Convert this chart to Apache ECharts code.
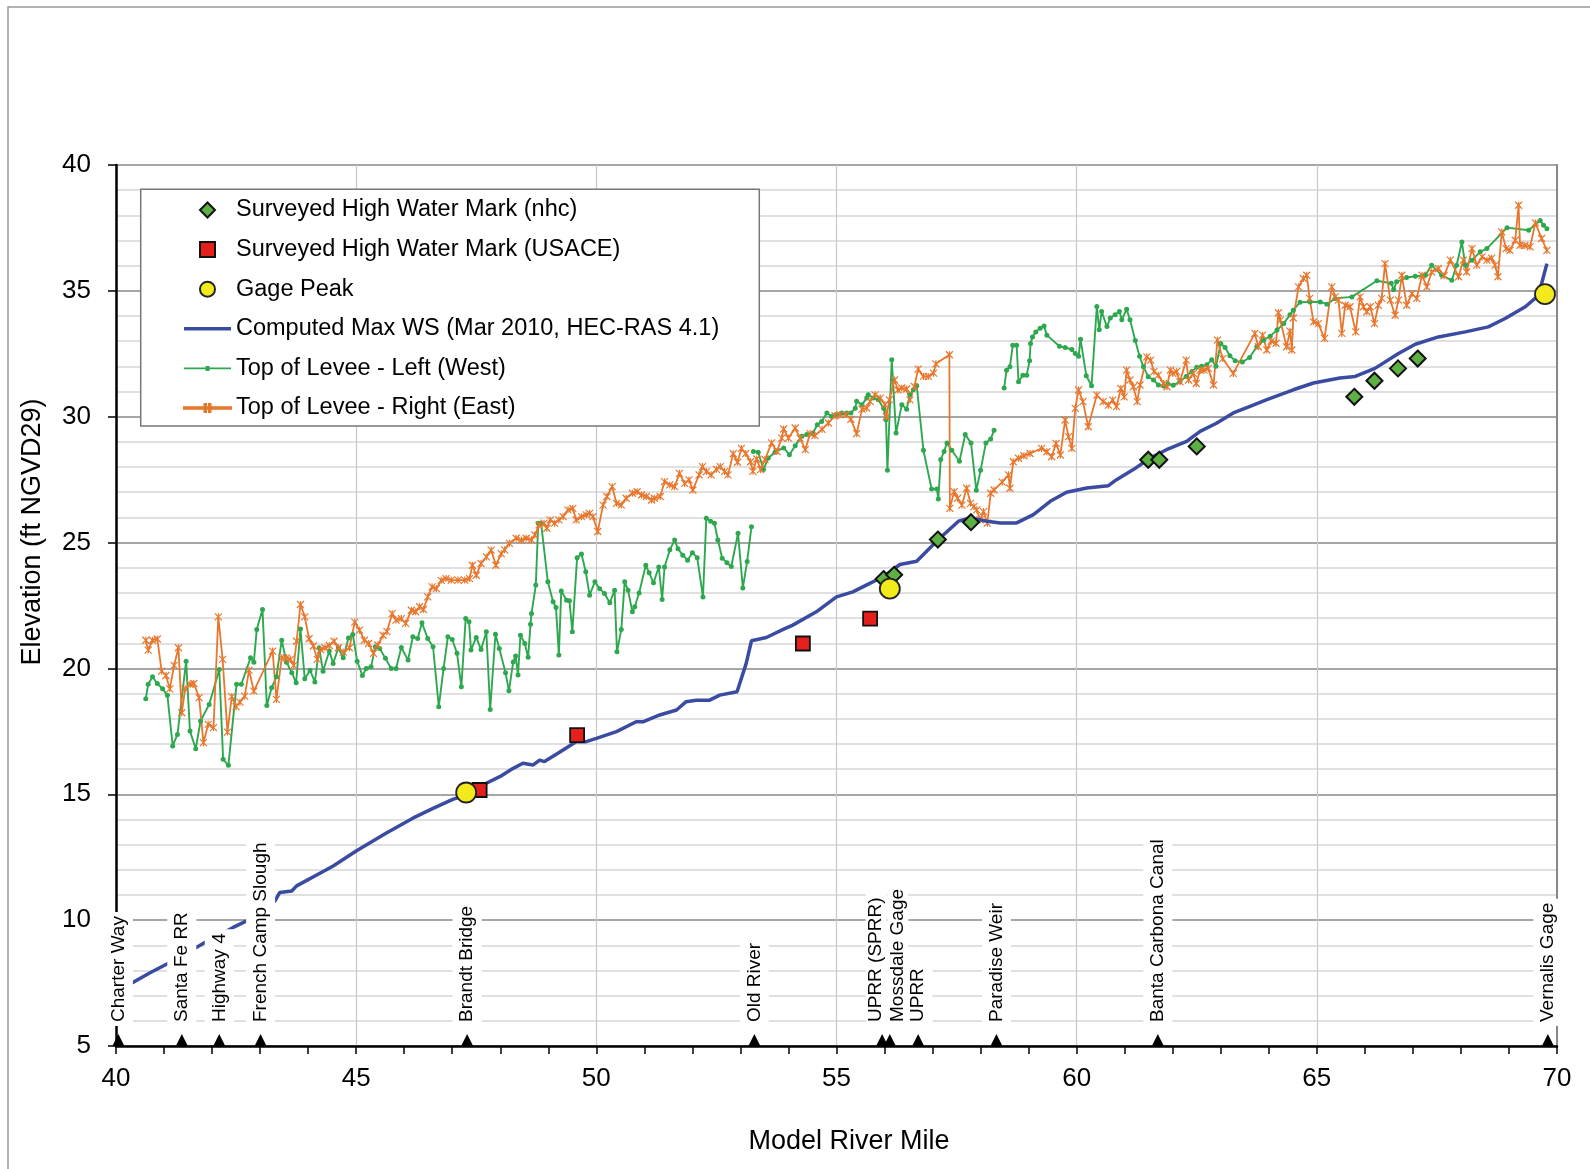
<!DOCTYPE html>
<html>
<head>
<meta charset="utf-8">
<script src="https://cdn.jsdelivr.net/npm/echarts@6/dist/echarts.min.js"></script>
<style>
html,body{margin:0;padding:0;background:#fff;}
#chart{width:1590px;height:1169px;}
</style>
</head>
<body>
<div id="chart"></div>
<script>
// ---------------- DATA ----------------
const xTicks = [40, 45, 50, 55, 60, 65, 70];
const yTicks = [5, 10, 15, 20, 25, 30, 35, 40];

const computedWS = [[40.0,7.15],[40.36,7.53],[40.7,7.9],[41.12,8.32],[41.68,8.92],[41.85,9.11],[42.44,9.71],[42.72,9.97],[43.0,10.3],[43.31,10.77],[43.41,11.1],[43.66,11.16],[43.76,11.36],[44.38,12.0],[44.53,12.16],[45.0,12.75],[45.62,13.45],[46.18,14.05],[46.6,14.44],[47.01,14.8],[47.29,14.97],[47.71,15.44],[47.99,15.7],[48.27,16.03],[48.47,16.23],[48.68,16.16],[48.82,16.36],[48.92,16.3],[49.2,16.63],[49.58,17.09],[49.79,17.09],[50.0,17.22],[50.42,17.49],[50.83,17.88],[50.97,17.88],[51.32,18.15],[51.67,18.35],[51.87,18.68],[52.08,18.74],[52.36,18.74],[52.57,18.94],[52.93,19.07],[53.12,20.2],[53.23,21.1],[53.54,21.23],[53.89,21.55],[54.09,21.72],[54.58,22.25],[55.0,22.84],[55.34,23.04],[55.62,23.31],[55.97,23.64],[56.32,24.13],[56.67,24.26],[57.12,25.12],[57.54,25.85],[57.78,25.98],[58.13,25.85],[58.41,25.78],[58.75,25.78],[59.1,26.11],[59.45,26.64],[59.79,27.0],[60.21,27.17],[60.66,27.26],[60.83,27.5],[61.18,27.9],[61.53,28.36],[61.87,28.69],[62.29,29.02],[62.57,29.42],[62.92,29.75],[63.26,30.15],[63.61,30.41],[63.96,30.68],[64.51,31.07],[64.93,31.34],[65.48,31.54],[65.8,31.6],[66.21,31.92],[66.7,32.51],[67.05,32.88],[67.53,33.17],[68.09,33.37],[68.57,33.57],[68.92,33.9],[69.34,34.37],[69.58,34.76],[69.68,35.29],[69.79,36.08]];

const leveeLeftA = [[40.62,18.8],[40.67,19.37],[40.76,19.67],[40.86,19.4],[40.97,19.19],[41.07,18.93],[41.18,16.92],[41.28,17.38],[41.46,20.29],[41.54,17.51],[41.66,16.81],[41.76,17.91],[41.94,18.57],[42.15,19.96],[42.23,16.39],[42.34,16.15],[42.51,19.37],[42.61,19.37],[42.8,20.42],[42.87,20.25],[42.93,21.55],[43.05,22.34],[43.14,18.53],[43.24,19.23],[43.34,19.67],[43.45,21.12],[43.55,20.25],[43.66,19.83],[43.75,19.43],[43.84,21.57],[43.93,19.59],[44.04,19.93],[44.14,19.46],[44.23,20.82],[44.31,19.89],[44.44,20.69],[44.52,20.2],[44.63,20.82],[44.73,20.42],[44.84,21.21],[44.93,21.35],[45.02,20.29],[45.13,19.72],[45.21,20.0],[45.31,20.07],[45.4,20.86],[45.49,20.79],[45.61,20.4],[45.73,20.0],[45.83,20.0],[45.94,20.83],[46.08,20.33],[46.18,21.26],[46.28,21.19],[46.37,21.81],[46.49,21.19],[46.6,20.86],[46.72,18.48],[46.82,20.0],[46.91,21.26],[47.0,21.15],[47.1,20.6],[47.19,19.27],[47.28,21.98],[47.35,21.85],[47.39,20.73],[47.5,21.23],[47.6,20.75],[47.71,21.46],[47.79,18.37],[47.9,21.36],[47.98,20.79],[48.11,19.83],[48.18,19.11],[48.27,20.26],[48.32,20.49],[48.37,19.74],[48.42,21.32],[48.51,20.99],[48.58,20.44],[48.63,21.76],[48.65,22.18],[48.74,23.31],[48.79,25.77],[48.85,25.77],[48.99,23.44],[49.1,22.65],[49.16,22.42],[49.22,20.53],[49.27,23.08],[49.38,22.71],[49.44,22.69],[49.5,21.46],[49.6,24.4],[49.69,24.55],[49.78,23.84],[49.86,22.91],[49.97,23.44],[50.07,23.17],[50.17,22.98],[50.28,22.61],[50.38,23.11],[50.43,20.66],[50.52,21.55],[50.59,23.44],[50.66,23.11],[50.75,22.25],[50.8,22.45],[50.89,23.0],[51.03,24.1],[51.1,23.8],[51.19,23.4],[51.3,24.03],[51.37,22.74],[51.42,24.03],[51.53,24.71],[51.63,25.1],[51.7,24.75],[51.8,24.5],[51.9,24.3],[52.0,24.6],[52.1,24.4],[52.22,22.84],[52.29,25.97],[52.38,25.85],[52.46,25.77],[52.53,25.1],[52.62,24.38],[52.72,24.2],[52.81,24.05],[52.95,25.37],[53.05,23.2],[53.14,24.25],[53.23,25.63]];

const leveeLeftB = [[53.27,28.62],[53.37,28.59],[53.48,27.9],[53.58,28.36],[53.72,28.59],[53.9,28.76],[54.02,28.49],[54.14,28.85],[54.28,29.22],[54.38,29.29],[54.51,29.35],[54.6,29.68],[54.69,29.81],[54.8,30.15],[54.9,30.01],[54.99,30.08],[55.11,30.15],[55.21,30.15],[55.3,30.15],[55.39,30.34],[55.42,30.61],[55.53,30.48],[55.63,30.74],[55.66,30.87],[55.77,30.74],[55.87,30.67],[55.98,30.34],[56.03,29.88],[56.06,27.87],[56.15,32.26],[56.24,29.35],[56.36,30.48],[56.46,30.3],[56.53,30.87],[56.6,31.07],[56.67,31.23],[56.81,28.67],[56.98,27.13],[57.09,27.13],[57.12,26.73],[57.17,28.3],[57.24,28.62],[57.3,28.96],[57.4,28.67],[57.56,28.23],[57.68,29.29],[57.8,28.96],[57.91,27.08],[58.0,27.87],[58.11,28.96],[58.21,29.11],[58.28,29.46]];

const leveeLeftC = [[58.49,31.14],[58.54,31.85],[58.61,31.98],[58.67,32.84],[58.75,32.84],[58.79,31.39],[58.88,31.65],[58.96,31.65],[59.02,32.22],[59.04,32.91],[59.08,33.17],[59.15,33.37],[59.24,33.51],[59.32,33.6],[59.38,33.24],[59.64,32.8],[59.76,32.75],[59.9,32.67],[59.97,32.51],[60.04,32.4],[60.08,33.08],[60.2,31.63],[60.31,31.23],[60.42,34.38],[60.47,33.45],[60.52,34.18],[60.63,33.58],[60.7,33.92],[60.8,34.05],[60.89,34.18],[60.94,33.85],[61.04,34.27],[61.11,33.85],[61.22,33.03],[61.31,32.4],[61.39,31.98],[61.49,31.59],[61.6,31.46],[61.7,31.26],[61.81,31.22],[61.9,31.3],[62.01,31.25],[62.15,31.4],[62.28,31.6],[62.4,31.8],[62.5,31.97],[62.6,32.0],[62.71,32.06],[62.81,32.26],[62.9,32.0],[63.0,32.91],[63.09,32.75],[63.19,32.42],[63.3,32.22],[63.45,32.17],[63.6,32.35],[63.75,32.78],[63.89,33.04],[64.03,33.2],[64.17,33.44],[64.31,33.7],[64.44,34.05],[64.51,34.23],[64.65,34.55],[64.86,34.56],[65.07,34.56],[65.21,34.47],[65.38,34.7],[65.73,34.76],[66.25,35.4],[66.55,35.3],[66.6,35.05],[66.66,35.36],[66.87,35.53],[67.05,35.58],[67.26,35.62],[67.39,36.02],[67.6,35.62],[67.81,35.42],[67.91,36.02],[68.02,36.94],[68.09,36.02],[68.23,36.22],[68.4,36.55],[68.54,36.68],[68.96,37.51],[69.41,37.41],[69.65,37.8],[69.72,37.61],[69.79,37.47]];

const leveeRight = [[40.62,21.12],[40.67,20.73],[40.76,21.12],[40.86,21.17],[40.95,19.89],[41.04,19.72],[41.12,19.19],[41.21,20.12],[41.3,20.82],[41.37,18.24],[41.44,19.19],[41.54,19.37],[41.62,19.4],[41.73,18.84],[41.82,17.05],[41.92,17.78],[42.03,17.65],[42.13,22.05],[42.22,20.36],[42.32,17.47],[42.41,18.88],[42.5,18.48],[42.58,18.66],[42.68,18.9],[42.77,19.93],[42.87,19.1],[43.26,20.69],[43.34,18.77],[43.45,20.42],[43.55,20.42],[43.63,20.36],[43.7,20.12],[43.76,21.08],[43.84,22.54],[43.93,22.05],[44.02,21.18],[44.11,20.89],[44.19,20.36],[44.26,20.75],[44.35,20.82],[44.44,20.91],[44.54,21.08],[44.63,20.82],[44.73,20.65],[44.86,20.82],[44.97,21.84],[45.07,21.52],[45.17,21.12],[45.26,20.99],[45.36,20.6],[45.45,20.93],[45.56,21.32],[45.64,21.46],[45.75,22.18],[45.83,21.92],[45.94,21.98],[46.03,21.79],[46.15,22.31],[46.24,22.25],[46.32,22.45],[46.4,22.34],[46.49,22.84],[46.58,23.24],[46.67,23.17],[46.77,23.5],[46.87,23.57],[46.98,23.51],[47.12,23.51],[47.26,23.51],[47.36,23.57],[47.42,24.1],[47.5,23.7],[47.6,24.17],[47.71,24.43],[47.81,24.7],[47.91,24.1],[48.02,24.56],[48.09,24.71],[48.19,24.97],[48.33,25.17],[48.44,25.1],[48.54,25.17],[48.65,25.11],[48.72,25.3],[48.81,25.7],[48.91,25.77],[48.97,25.57],[49.04,25.9],[49.13,25.77],[49.22,25.9],[49.31,26.03],[49.41,26.3],[49.51,26.36],[49.58,25.9],[49.69,26.03],[49.79,26.1],[49.86,26.16],[49.93,26.03],[50.03,25.44],[50.14,26.49],[50.22,26.83],[50.33,27.22],[50.42,26.56],[50.52,26.49],[50.62,26.76],[50.75,26.96],[50.85,27.02],[50.94,26.89],[51.04,26.83],[51.15,26.69],[51.21,26.76],[51.33,26.83],[51.42,27.42],[51.53,27.29],[51.63,27.22],[51.73,27.75],[51.84,27.35],[51.93,27.49],[52.01,27.09],[52.14,27.69],[52.21,28.02],[52.29,27.82],[52.39,27.69],[52.5,27.91],[52.58,28.02],[52.67,27.82],[52.74,27.69],[52.85,28.53],[52.94,28.19],[53.02,28.74],[53.11,28.54],[53.21,28.21],[53.26,27.83],[53.34,28.32],[53.42,27.9],[53.51,28.3],[53.65,28.96],[53.76,28.62],[53.86,29.15],[53.9,29.51],[54.0,29.15],[54.14,29.55],[54.24,29.15],[54.35,28.69],[54.45,29.33],[54.55,29.25],[54.7,29.5],[54.83,29.75],[54.97,30.04],[55.07,30.08],[55.2,30.08],[55.3,29.9],[55.42,29.33],[55.53,30.3],[55.63,30.34],[55.7,30.61],[55.8,30.87],[55.91,30.74],[56.01,30.48],[56.04,30.0],[56.1,30.67],[56.21,31.46],[56.28,31.06],[56.36,31.14],[56.46,31.1],[56.53,30.67],[56.62,31.2],[56.7,31.89],[56.81,31.6],[56.91,31.6],[57.02,31.73],[57.07,32.1],[57.35,32.46],[57.36,26.36],[57.45,27.02],[57.52,26.76],[57.61,26.49],[57.71,27.16],[57.79,26.56],[57.86,26.43],[57.92,26.3],[57.99,25.9],[58.06,26.23],[58.14,25.77],[58.21,26.96],[58.28,27.09],[58.45,27.4],[58.58,27.69],[58.61,27.16],[58.68,28.21],[58.79,28.35],[58.9,28.45],[59.03,28.54],[59.27,28.74],[59.38,28.61],[59.48,28.41],[59.57,28.94],[59.66,28.48],[59.76,29.87],[59.83,29.21],[59.9,28.74],[59.97,30.33],[60.04,31.06],[60.13,30.6],[60.24,29.6],[60.42,30.86],[60.55,30.6],[60.66,30.46],[60.75,30.66],[60.83,30.4],[60.92,31.12],[60.99,30.79],[61.04,31.85],[61.11,31.46],[61.18,31.19],[61.26,30.6],[61.32,31.26],[61.46,32.38],[61.54,32.25],[61.61,31.79],[61.7,31.65],[61.81,31.32],[61.88,31.19],[61.95,31.85],[62.0,31.72],[62.08,31.79],[62.15,31.39],[62.28,32.25],[62.33,31.46],[62.43,31.72],[62.49,31.32],[62.57,31.85],[62.65,31.85],[62.74,31.92],[62.85,31.26],[62.93,33.04],[63.04,32.31],[63.26,31.72],[63.71,33.31],[63.78,32.78],[63.87,33.24],[63.96,32.65],[64.05,33.0],[64.15,32.92],[64.2,34.13],[64.24,33.84],[64.37,32.78],[64.44,33.4],[64.48,32.65],[64.51,33.92],[64.62,35.16],[64.72,35.49],[64.79,35.62],[64.85,34.7],[64.93,33.77],[65.03,33.7],[65.16,33.11],[65.31,35.16],[65.38,34.76],[65.45,34.63],[65.52,33.31],[65.59,34.43],[65.69,34.37],[65.81,33.37],[65.9,34.76],[65.97,34.37],[66.04,34.17],[66.11,34.37],[66.2,33.7],[66.28,34.43],[66.35,34.7],[66.42,36.08],[66.53,34.63],[66.63,34.03],[66.7,34.63],[66.77,35.62],[66.87,34.43],[66.98,34.89],[67.08,34.7],[67.19,35.62],[67.29,35.16],[67.39,35.75],[67.53,35.89],[67.65,35.6],[67.78,36.22],[67.95,35.56],[68.05,36.22],[68.12,35.75],[68.23,36.68],[68.33,36.02],[68.44,36.35],[68.54,36.22],[68.64,36.3],[68.71,36.02],[68.77,35.56],[68.85,37.34],[68.94,36.68],[69.02,36.61],[69.13,37.01],[69.2,38.4],[69.23,36.81],[69.33,36.8],[69.44,36.75],[69.55,37.7],[69.68,37.08],[69.79,36.61]];

const hwmNhc = [[55.98,23.55],[56.2,23.72],[57.11,25.12],[57.8,25.81],[61.49,28.29],[61.72,28.29],[62.5,28.82],[65.78,30.79],[66.2,31.43],[66.69,31.92],[67.1,32.31]];
const hwmUsace = [[47.57,15.17],[49.6,17.35],[54.3,20.99],[55.7,21.98]];
const gagePeak = [[47.29,15.07],[56.11,23.17],[69.75,34.87]];

const landmarkNames = ['Charter Way','Santa Fe RR','Highway 4','French Camp Slough','Brandt Bridge','Old River','UPRR (SPRR)','Mossdale Gage','UPRR','Paradise Weir','Banta Carbona Canal','Vernalis Gage'];
const landmarkMiles = [40.05, 41.37, 42.15, 43.01, 47.31, 53.29, 55.95, 56.11, 56.70, 58.33, 61.69, 69.81];
const landmarkLabelShift = [0, 0, 0, 0, 0, 0, -6, 8, 0, 0, 0, 0];

// ---------------- CHART ----------------
const FONT = 'Liberation Sans, Arial, sans-serif';
const GREEN = '#2EA84F';
const ORANGE = '#E8772E';
const BLUE = '#3A4BA2';
const TRI = 12;        // triangle marker size
const LABEL_GAP = 8;   // gap between triangle tip and label

const NAMES = {
  nhc: 'Surveyed High Water Mark (nhc)',
  usace: 'Surveyed High Water Mark (USACE)',
  gage: 'Gage Peak',
  ws: 'Computed Max WS (Mar 2010, HEC-RAS 4.1)',
  left: 'Top of Levee - Left (West)',
  right: 'Top of Levee - Right (East)'
};

const chart = echarts.init(document.getElementById('chart'), null, {renderer: 'canvas'});

function leftSeries(data) {
  return {
    name: NAMES.left, type: 'line', data: data, z: 2,
    symbol: 'circle', symbolSize: 5, showSymbol: true,
    itemStyle: {color: GREEN},
    lineStyle: {color: GREEN, width: 1.9},
    emphasis: {disabled: true}
  };
}

// label anchored relative to the triangle's bounding box; shift moves it sideways
const landmarkData = landmarkNames.map((n, i) => {
  const tight = landmarkLabelShift[i] !== 0;
  return {
    name: n,
    value: [landmarkMiles[i], 5],
    label: {
      position: [TRI / 2 + landmarkLabelShift[i], -LABEL_GAP],
      padding: tight ? [0, 4] : [4, 4]
    }
  };
});

const option = {
  animation: false,
  backgroundColor: '#ffffff',
  textStyle: {fontFamily: FONT},
  grid: {left: 116, top: 165, width: 1441, height: 881, containLabel: false},
  xAxis: {
    type: 'value', min: xTicks[0], max: xTicks[xTicks.length - 1], interval: 5,
    axisLine: {show: true, onZero: false, lineStyle: {color: '#000', width: 2.5}},
    axisTick: {show: true, inside: false, length: 8, lineStyle: {color: '#000', width: 1.5}},
    minorTick: {show: true, splitNumber: 5, length: 8, lineStyle: {color: '#000', width: 1.5}},
    axisLabel: {fontSize: 26, color: '#000', margin: 20, fontFamily: FONT},
    splitLine: {show: true, lineStyle: {color: '#c8c8c8', width: 1.2}},
    minorSplitLine: {show: false}
  },
  yAxis: [{
    type: 'value', min: yTicks[0], max: yTicks[yTicks.length - 1], interval: 5,
    axisLine: {show: true, onZero: false, lineStyle: {color: '#000', width: 2.5}},
    axisTick: {show: true, inside: false, length: 8, lineStyle: {color: '#000', width: 1.5}},
    minorTick: {show: false, splitNumber: 5},
    axisLabel: {fontSize: 26, color: '#000', margin: 25, fontFamily: FONT},
    splitLine: {show: true, lineStyle: {color: '#888888', width: 1.6}},
    minorSplitLine: {show: true, lineStyle: {color: '#d6d6d6', width: 1.5}}
  }, {
    type: 'value', position: 'right', min: yTicks[0], max: yTicks[yTicks.length - 1], interval: 5,
    axisLine: {show: true, onZero: false, lineStyle: {color: '#888888', width: 2}},
    axisTick: {show: false}, axisLabel: {show: false}, splitLine: {show: false}
  }],
  legend: {
    orient: 'vertical', left: 183, top: 198, padding: 0,
    itemWidth: 47, itemHeight: 15, itemGap: 15.6,
    symbolKeepAspect: true,
    selectedMode: false,
    textStyle: {fontSize: 23.5, lineHeight: 24, color: '#000', fontFamily: FONT},
    data: [
      {name: NAMES.nhc, icon: 'path://M7,0L14,7L7,14L0,7Z'},
      {name: NAMES.usace, icon: 'path://M0,0L13,0L13,13L0,13Z'},
      {name: NAMES.gage, icon: 'circle'},
      {name: NAMES.ws, icon: 'path://M0,0L47,0L47,3.5L0,3.5Z'},
      {name: NAMES.left, icon: 'path://M0,2.2L47,2.2L47,3.8L0,3.8Z M21.5,0.5L25.5,0.5L25.5,5.5L21.5,5.5Z'},
      {name: NAMES.right, icon: 'path://M0,3.2L47,3.2L47,4.8L0,4.8Z M20.5,0L22,0L22,8L20.5,8Z M25,0L26.5,0L26.5,8L25,8Z'}
    ]
  },
  graphic: [
    {type: 'rect', z: 3, shape: {x: 140.7, y: 189.3, width: 618.6, height: 236.7},
     style: {fill: '#ffffff', stroke: '#777777', lineWidth: 1.5}},
    {type: 'rect', z: 0, silent: true, shape: {x: 8, y: 7, width: 1700, height: 1300},
     style: {fill: 'none', stroke: '#9a9a9a', lineWidth: 1.5}},
    {type: 'text', z: 3, x: 33, y: 532, rotation: Math.PI / 2,
     style: {text: 'Elevation (ft NGVD29)', font: '27px ' + FONT, fill: '#000', textAlign: 'center', textVerticalAlign: 'middle'}},
    {type: 'text', z: 3, x: 849, y: 1142,
     style: {text: 'Model River Mile', font: '27px ' + FONT, fill: '#000', textAlign: 'center', textVerticalAlign: 'middle'}}
  ],
  series: [
    leftSeries(leveeLeftA),
    leftSeries(leveeLeftB),
    leftSeries(leveeLeftC),
    {
      name: NAMES.right, type: 'line', data: leveeRight, z: 2,
      symbol: 'path://M0,0L10,10M10,0L0,10M5,0L5,10', symbolSize: 7, showSymbol: true,
      itemStyle: {color: ORANGE, borderColor: ORANGE, borderWidth: 1.2},
      lineStyle: {color: ORANGE, width: 1.8},
      emphasis: {disabled: true}
    },
    {
      name: NAMES.ws, type: 'line', data: computedWS, z: 3,
      symbol: 'none', showSymbol: false,
      itemStyle: {color: BLUE},
      lineStyle: {color: BLUE, width: 3.5},
      emphasis: {disabled: true}
    },
    {
      name: NAMES.nhc, type: 'scatter', data: hwmNhc, z: 4,
      symbol: 'diamond', symbolSize: 16,
      itemStyle: {color: '#5DB043', borderColor: '#111', borderWidth: 2, opacity: 1},
      emphasis: {disabled: true}
    },
    {
      name: NAMES.usace, type: 'scatter', data: hwmUsace, z: 4,
      symbol: 'rect', symbolSize: 14,
      itemStyle: {color: '#E3201B', borderColor: '#111', borderWidth: 1.8, opacity: 1},
      emphasis: {disabled: true}
    },
    {
      name: NAMES.gage, type: 'scatter', data: gagePeak, z: 4,
      symbol: 'circle', symbolSize: 20,
      itemStyle: {color: '#F2EA1A', borderColor: '#222', borderWidth: 1.8, opacity: 1},
      emphasis: {disabled: true}
    },
    {
      name: 'landmarks', type: 'scatter', data: landmarkData, z: 6, silent: true,
      symbol: 'triangle', symbolSize: TRI, symbolOffset: [0, -TRI / 2],
      itemStyle: {color: '#000', opacity: 1},
      label: {
        show: true, formatter: '{b}', position: [TRI / 2, -LABEL_GAP], rotate: 90,
        align: 'left', verticalAlign: 'middle',
        fontSize: 19, lineHeight: 21, color: '#000', fontFamily: FONT,
        backgroundColor: '#ffffff', padding: [4, 4]
      },
      labelLayout: {hideOverlap: false},
      emphasis: {disabled: true}
    }
  ]
};

chart.setOption(option);
</script>
</body>
</html>
